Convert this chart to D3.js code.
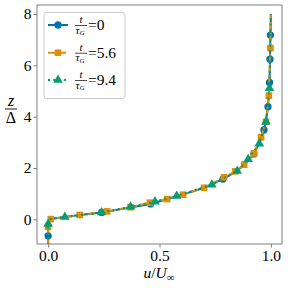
<!DOCTYPE html>
<html><head><meta charset="utf-8">
<script src="https://cdn.jsdelivr.net/npm/d3@7"></script>
<style>body{margin:0;background:#fff}svg{display:block}</style>
</head><body><div id="c"></div>
<script>
// ---- data ----
const seriesLabels = ["0", "5.6", "9.4"];
const colors = ["#0173B2", "#DE8F05", "#029E73"];
const xTicks = [0, 0.5, 1.0];
const yTicks = [0, 2, 4, 6, 8];

// series t/tau=0 (line points, marker flags)
const u0 = [0, 0, 0, 0.004, 0.04, 0.125, 0.24, 0.33, 0.46, 0.54, 0.615, 0.69, 0.785, 0.85, 0.89, 0.924, 0.95, 0.969, 0.979, 0.987, 0.994, 0.996, 0.998, 1.0];
const z0 = [-1.0, -0.64, -0.2, 0.0, 0.05, 0.15, 0.27, 0.4, 0.6, 0.8, 1.0, 1.2, 1.57, 1.9, 2.2, 2.55, 3.0, 3.48, 3.9, 4.39, 5.33, 6.24, 7.18, 8.0];
const m0 = [0, 1, 0, 0, 0, 0, 1, 0, 1, 0, 0, 0, 1, 0, 0, 1, 0, 1, 0, 1, 1, 1, 1, 0];

// series t/tau=5.6
const u1 = [0, 0, 0.012, 0.142, 0.265, 0.37, 0.457, 0.534, 0.606, 0.70, 0.79, 0.84, 0.88, 0.924, 0.956, 0.978, 0.991, 0.998, 1.0];
const z1 = [-1.0, -0.29, 0.01, 0.17, 0.31, 0.47, 0.65, 0.79, 0.96, 1.23, 1.64, 1.87, 2.13, 2.57, 3.2, 3.8, 4.82, 6.67, 8.0];
const m1 = [0, 1, 1, 1, 1, 1, 1, 1, 1, 1, 1, 1, 1, 1, 1, 1, 1, 1, 0];

// series t/tau=9.4
const u2 = [0, 0, 0.003, 0.075, 0.24, 0.37, 0.48, 0.577, 0.735, 0.849, 0.898, 0.948, 0.978, 0.994, 0.997, 1.0];
const z2 = [-1.0, -0.18, 0.0, 0.09, 0.27, 0.49, 0.69, 0.91, 1.35, 1.88, 2.34, 2.95, 3.8, 5.11, 6.5, 8.0];
const m2 = [0, 1, 0, 1, 1, 1, 1, 1, 1, 1, 1, 1, 1, 1, 0, 0];

const seriesU = [u0, u1, u2], seriesZ = [z0, z1, z2], seriesM = [m0, m1, m2];

// ---- drawing ----
const W = 288, H = 288;
const L = 37, R = 282, T = 5, B = 244;
const SERIF = "Liberation Serif";
const svg = d3.select("#c").append("svg").attr("width", W).attr("height", H)
  .attr("font-family", SERIF);
const x = d3.scaleLinear().domain([-0.05, 1.05]).range([L, R]);
const y = d3.scaleLinear().domain([-0.96, 8.35]).range([B, T]);
const spine = "#808080";

svg.append("defs").append("clipPath").attr("id", "clip")
  .append("rect").attr("x", L).attr("y", T).attr("width", R - L).attr("height", B - T);

const gx = svg.append("g").attr("transform", `translate(0,${B})`)
  .call(d3.axisBottom(x).tickValues(xTicks).tickFormat(d3.format(".1f")).tickSize(3.5).tickPadding(2));
const gy = svg.append("g").attr("transform", `translate(${L},0)`)
  .call(d3.axisLeft(y).tickValues(yTicks).tickFormat(d3.format("d")).tickSize(3.5).tickPadding(2));
[gx, gy].forEach(g => {
  g.attr("font-family", SERIF).attr("font-size", 15.5);
  g.select(".domain").remove();
  g.selectAll(".tick line").attr("stroke", spine);
  g.selectAll("text").attr("font-family", SERIF).attr("font-size", 15.5).attr("fill", "#000");
});

const plot = svg.append("g").attr("clip-path", "url(#clip)");
const dashes = [null, "7.4,3.2", "2,3.3"];
const line = d3.line().x(d => x(d[0])).y(d => y(d[1]));
const sym = [d3.symbol().type(d3.symbolCircle).size(42), d3.symbol().type(d3.symbolSquare).size(44), d3.symbol().type(d3.symbolTriangle).size(40)];

seriesU.forEach((us, i) => {
  const pts = us.map((u, k) => [u, seriesZ[i][k], seriesM[i][k]]);
  plot.append("path").datum(pts).attr("d", line).attr("fill", "none")
    .attr("stroke", colors[i]).attr("stroke-width", 2)
    .attr("stroke-dasharray", dashes[i]);
  plot.selectAll(null).data(pts.filter(p => p[2])).enter().append("path")
    .attr("d", sym[i]).attr("fill", colors[i])
    .attr("transform", p => `translate(${x(p[0])},${y(p[1])})`);
});

svg.append("rect").attr("x", L).attr("y", T).attr("width", R - L).attr("height", B - T)
  .attr("fill", "none").attr("stroke", spine).attr("stroke-width", 1);

// axis labels
const xl = svg.append("text").attr("x", 159).attr("y", 277.5).attr("text-anchor", "middle")
  .attr("font-family", SERIF).attr("font-size", 15.5).attr("fill", "#000");
xl.append("tspan").attr("font-style", "italic").text("u");
xl.append("tspan").text("/");
xl.append("tspan").attr("font-style", "italic").text("U");
xl.append("tspan").attr("font-size", 11).attr("dy", 3).text("∞");

const yl = svg.append("g").attr("fill", "#000").attr("font-family", SERIF);
yl.append("text").attr("x", 11).attr("y", 106).attr("text-anchor", "middle").attr("font-size", 16).attr("font-style", "italic").text("z");
yl.append("line").attr("x1", 5).attr("x2", 17).attr("y1", 109).attr("y2", 109).attr("stroke", "#000").attr("stroke-width", 0.9);
yl.append("text").attr("x", 11).attr("y", 123).attr("text-anchor", "middle").attr("font-size", 16).text("Δ");

// legend
const lg = svg.append("g").attr("font-family", SERIF);
lg.append("rect").attr("x", 44).attr("y", 12.5).attr("width", 81).attr("height", 86).attr("rx", 3)
  .attr("fill", "#fff").attr("fill-opacity", 0.8).attr("stroke", "#cccccc").attr("stroke-width", 1);
const rowY = [25, 52.7, 80];
seriesLabels.forEach((lab, i) => {
  const ry = rowY[i];
  lg.append("line").attr("x1", 48).attr("x2", 68).attr("y1", ry).attr("y2", ry)
    .attr("stroke", colors[i]).attr("stroke-width", 2).attr("stroke-dasharray", dashes[i]);
  lg.append("path").attr("d", sym[i]).attr("fill", colors[i]).attr("transform", `translate(58,${ry})`);
  const t = lg.append("g").attr("fill", "#000");
  t.append("text").attr("x", 81).attr("y", ry - 2).attr("text-anchor", "middle").attr("font-size", 11).attr("font-style", "italic").text("t");
  t.append("line").attr("x1", 75).attr("x2", 87).attr("y1", ry + 0.5).attr("y2", ry + 0.5).attr("stroke", "#000").attr("stroke-width", 0.7);
  const d = t.append("text").attr("x", 75.5).attr("y", ry + 8.5).attr("font-size", 11).attr("font-style", "italic");
  d.append("tspan").text("τ");
  d.append("tspan").attr("font-size", 7).attr("dy", 1.5).text("G");
  t.append("text").attr("x", 88).attr("y", ry + 5).attr("font-size", 15.5).text("=" + lab);
});
</script></body></html>
